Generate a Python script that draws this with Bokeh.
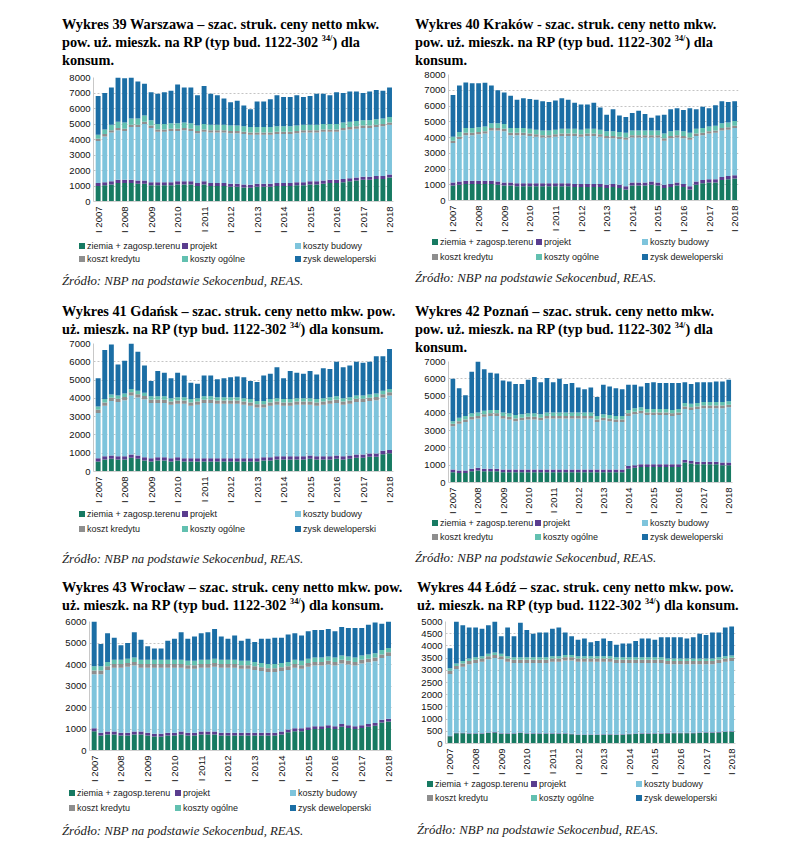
import math
from bokeh.plotting import figure
from bokeh.models import Range1d, FixedTicker, Div, ColumnDataSource
from bokeh.layouts import column, row, Spacer
from bokeh.embed import file_html
from bokeh.resources import INLINE

series = ["ziemia + zagosp.terenu", "projekt", "koszty budowy",
          "koszt kredytu", "koszty ogólne", "zysk deweloperski"]
colors = ["#177a62", "#5a3d8f", "#7ec4dc", "#8e8e8e", "#62c0b0", "#1b6ea5"]
tick_labels = ["I 2007", "I 2008", "I 2009", "I 2010", "I 2011", "I 2012",
               "I 2013", "I 2014", "I 2015", "I 2016", "I 2017", "I 2018"]
tick_bars = [0, 4, 8, 12, 16, 20, 24, 28, 32, 36, 40, 44]

# ---------------- Warszawa ----------------
waw_ziemia = [1000, 1050, 1100, 1200, 1200, 1200, 1150, 1150, 1050, 1050, 1050, 1050, 1100, 1100, 1100,
              1000, 1100, 1000, 1000, 1000, 950, 950, 900, 880, 950, 950, 950, 1000, 1000, 1000,
              1050, 1050, 1100, 1100, 1150, 1200, 1200, 1250, 1300, 1350, 1400, 1400, 1450, 1450, 1550]
waw_projekt = [200, 200, 200, 200, 200, 200, 200, 200, 200, 200, 200, 200, 200, 200, 200,
               200, 200, 200, 200, 200, 200, 200, 200, 200, 200, 200, 200, 200, 200, 200,
               200, 200, 200, 200, 200, 200, 200, 200, 200, 200, 200, 200, 200, 200, 200]
waw_budowy = [2700, 2950, 3150, 3200, 3150, 3400, 3450, 3650, 3500, 3250, 3250, 3300, 3250, 3300, 3250,
              3200, 3200, 3250, 3250, 3250, 3250, 3250, 3250, 3220, 3150, 3150, 3150, 3150, 3150, 3150,
              3150, 3200, 3150, 3150, 3150, 3100, 3100, 3150, 3150, 3150, 3150, 3150, 3150, 3200, 3200]
waw_kredyt = [150, 150, 150, 150, 150, 150, 150, 150, 150, 150, 150, 150, 150, 150, 150,
              150, 150, 150, 150, 150, 150, 150, 150, 150, 150, 150, 150, 150, 150, 150,
              150, 150, 150, 150, 150, 150, 150, 150, 150, 150, 150, 150, 150, 150, 150]
waw_ogolne = [250, 300, 350, 400, 400, 400, 400, 400, 350, 350, 350, 350, 350, 350, 350,
              350, 350, 350, 350, 350, 350, 350, 350, 350, 350, 350, 350, 350, 350, 350,
              350, 350, 350, 350, 350, 350, 350, 350, 350, 350, 350, 350, 350, 350, 350]
waw_zysk = [2500, 2350, 2400, 2850, 2850, 2650, 2400, 2050, 1800, 1950, 2050, 2100, 2500, 2250, 2300,
            1950, 2450, 2000, 1900, 1700, 1500, 1600, 1350, 1150, 1650, 1650, 1800, 2000, 1900, 1900,
            1950, 1800, 1850, 2000, 1950, 1850, 2050, 1900, 1950, 1900, 1750, 1850, 1900, 1800, 1900]

# ---------------- Kraków ----------------
krk_ziemia = [950, 1000, 1050, 1050, 1050, 1050, 1050, 1000, 950, 950, 900, 900, 900, 900, 900,
              900, 900, 900, 900, 850, 850, 850, 850, 850, 800, 850, 800, 700, 950, 950,
              950, 1000, 950, 800, 850, 950, 850, 700, 1000, 1100, 1150, 1150, 1300, 1350, 1400]
krk_projekt = [200, 200, 200, 200, 200, 200, 200, 200, 200, 200, 200, 200, 200, 200, 200,
               200, 200, 200, 200, 200, 200, 200, 200, 200, 200, 200, 200, 200, 200, 200,
               200, 200, 200, 200, 200, 200, 200, 200, 200, 200, 200, 200, 200, 200, 200]
krk_budowy = [2500, 2700, 2900, 2900, 2950, 3000, 3200, 3250, 3250, 3000, 3050, 3050, 3000, 2950, 2900,
              2900, 2950, 3000, 3000, 3050, 3000, 3050, 3050, 3000, 2950, 2900, 2900, 2950, 2850, 2850,
              2850, 2800, 2850, 2800, 2900, 2850, 2900, 2950, 2900, 2850, 2900, 2950, 2950, 2950, 3000]
krk_kredyt = [150, 150, 150, 150, 150, 150, 150, 150, 150, 150, 150, 150, 150, 150, 150,
              150, 150, 150, 150, 150, 150, 150, 150, 150, 150, 150, 150, 150, 150, 150,
              150, 150, 150, 150, 150, 150, 150, 150, 150, 150, 150, 150, 150, 150, 150]
krk_ogolne = [250, 300, 300, 300, 300, 300, 300, 300, 300, 300, 300, 300, 300, 300, 300,
              300, 300, 300, 300, 300, 300, 300, 300, 300, 300, 300, 300, 300, 300, 300,
              300, 300, 300, 300, 300, 300, 300, 300, 300, 300, 300, 300, 300, 300, 300]
krk_zysk = [2650, 2950, 2900, 2850, 2800, 2780, 2400, 2100, 2000, 2050, 1800, 1900, 1900, 1900, 1850,
            1800, 1850, 1950, 1850, 1650, 1600, 1550, 1650, 1400, 1050, 1400, 1050, 1000, 1100, 1250,
            1050, 800, 950, 1200, 1400, 1400, 1350, 1550, 1250, 1350, 1150, 1300, 1400, 1300, 1250]

# ---------------- Gdańsk ----------------
gda_ziemia = [550, 650, 700, 650, 650, 750, 700, 600, 550, 600, 600, 550, 600, 550, 550,
              550, 550, 550, 550, 550, 550, 550, 550, 550, 550, 600, 600, 650, 650, 650,
              650, 650, 700, 650, 650, 650, 700, 650, 700, 750, 750, 800, 800, 950, 1000]
gda_projekt = [180, 180, 180, 180, 180, 180, 180, 180, 180, 180, 180, 180, 180, 180, 180,
               180, 180, 180, 180, 180, 180, 180, 180, 180, 180, 180, 180, 180, 180, 180,
               180, 180, 180, 180, 180, 180, 180, 180, 180, 180, 180, 180, 180, 180, 180]
gda_budowy = [2470, 2770, 2970, 2970, 3070, 3220, 3170, 3170, 3020, 2970, 2970, 2920, 2920, 2970, 2870,
              2920, 3020, 3020, 2970, 2970, 2970, 2970, 2920, 2870, 2770, 2720, 2820, 2820, 2770, 2770,
              2820, 2820, 2770, 2770, 2820, 2870, 2870, 2820, 2820, 2870, 2870, 2870, 2920, 2920, 2970]
gda_kredyt = [180, 180, 180, 180, 180, 180, 180, 180, 180, 180, 180, 180, 180, 180, 180,
              180, 180, 180, 180, 180, 180, 180, 180, 180, 180, 180, 180, 180, 180, 180,
              180, 180, 180, 180, 180, 180, 180, 180, 180, 180, 180, 180, 180, 180, 180]
gda_ogolne = [180, 180, 180, 180, 180, 180, 180, 180, 180, 180, 180, 180, 180, 180, 180,
              180, 180, 180, 180, 180, 180, 180, 180, 180, 180, 180, 180, 180, 180, 180,
              180, 180, 180, 180, 180, 180, 180, 180, 180, 180, 180, 180, 180, 180, 180]
gda_zysk = [1540, 2690, 2740, 1690, 1790, 2490, 2140, 1490, 840, 1390, 1290, 1090, 1340, 1190, 890,
            790, 1140, 1140, 990, 1040, 1090, 1140, 1140, 990, 1040, 1390, 1390, 1690, 1140, 1540,
            1390, 1340, 1490, 1340, 1640, 1540, 1890, 1690, 1740, 1840, 1790, 1790, 2040, 1890, 2190]

# ---------------- Poznań ----------------
poz_ziemia = [600, 550, 550, 650, 700, 650, 650, 650, 600, 600, 600, 600, 600, 600, 600,
              600, 600, 600, 600, 600, 600, 600, 600, 600, 600, 600, 600, 600, 800, 850,
              900, 900, 900, 900, 900, 900, 900, 1150, 1100, 1050, 1050, 1050, 1050, 1000, 1000]
poz_projekt = [150, 150, 150, 150, 150, 150, 150, 150, 150, 150, 150, 150, 150, 150, 150,
               150, 150, 150, 150, 150, 150, 150, 150, 150, 150, 150, 150, 150, 150, 150,
               150, 150, 150, 150, 150, 150, 150, 150, 150, 150, 150, 150, 150, 150, 150]
poz_budowy = [2500, 2700, 2800, 2850, 2850, 3000, 3050, 3050, 2950, 2900, 2800, 2850, 2900, 2900, 2850,
              2950, 2950, 2950, 2950, 2950, 2950, 2950, 2950, 2750, 2850, 2800, 2750, 2750, 2900, 2950,
              2950, 2850, 2850, 2850, 2850, 2800, 2850, 2950, 2950, 3050, 3100, 3100, 3100, 3150, 3200]
poz_kredyt = [150, 150, 150, 150, 150, 150, 150, 150, 150, 150, 150, 150, 150, 150, 150,
              150, 150, 150, 150, 150, 150, 150, 150, 150, 150, 150, 150, 150, 150, 150,
              150, 150, 150, 150, 150, 150, 150, 150, 150, 150, 150, 150, 150, 150, 150]
poz_ogolne = [150, 200, 200, 200, 200, 200, 200, 200, 200, 200, 200, 200, 200, 200, 200,
              200, 200, 200, 200, 200, 200, 200, 200, 200, 200, 200, 200, 200, 200, 200,
              200, 200, 200, 200, 200, 200, 200, 200, 200, 200, 200, 200, 200, 200, 200]
poz_zysk = [2450, 1700, 1200, 2400, 2950, 2400, 2150, 2100, 1850, 1850, 1800, 1750, 1950, 2100, 1850,
            2000, 1750, 1950, 1650, 1700, 1450, 1350, 1450, 1100, 1700, 1650, 1600, 1550, 1450, 1350,
            1200, 1500, 1550, 1500, 1500, 1550, 1500, 1200, 1150, 1200, 1150, 1150, 1200, 1200, 1250]

# ---------------- Wrocław ----------------
wro_ziemia = [900, 700, 750, 750, 700, 700, 750, 750, 700, 650, 650, 700, 700, 750, 700,
              700, 750, 750, 750, 700, 700, 700, 700, 700, 700, 700, 700, 700, 750, 850,
              900, 900, 950, 1000, 1000, 1050, 1000, 1100, 1050, 1000, 1050, 1100, 1150, 1300, 1350]
wro_projekt = [130, 130, 130, 130, 130, 130, 130, 130, 130, 130, 130, 130, 130, 130, 130,
               130, 130, 130, 130, 130, 130, 130, 130, 130, 130, 130, 130, 130, 130, 130,
               130, 130, 130, 130, 130, 130, 130, 130, 130, 130, 130, 130, 130, 130, 130]
wro_budowy = [2520, 2720, 2870, 2970, 3020, 3070, 3070, 2970, 3020, 3070, 3070, 3020, 3020, 2970, 2970,
              2970, 2970, 2970, 3020, 3020, 3020, 3020, 2970, 2970, 2920, 2870, 2820, 2820, 2820, 2770,
              2820, 2770, 2820, 2820, 2820, 2820, 2820, 2820, 2820, 2820, 2870, 2870, 2870, 2870, 2920]
wro_kredyt = [170, 170, 170, 170, 170, 170, 170, 170, 170, 170, 170, 170, 170, 170, 170,
              170, 170, 170, 170, 170, 170, 170, 170, 170, 170, 170, 170, 170, 170, 170,
              170, 170, 170, 170, 170, 170, 170, 170, 170, 170, 170, 170, 170, 170, 170]
wro_ogolne = [200, 200, 200, 200, 200, 200, 200, 200, 200, 200, 200, 200, 200, 200, 200,
              200, 200, 200, 200, 200, 200, 200, 200, 200, 200, 200, 200, 200, 200, 200,
              200, 200, 200, 200, 200, 200, 200, 200, 200, 200, 200, 200, 200, 200, 200]
wro_zysk = [2080, 1030, 1330, 1030, 680, 730, 1180, 930, 630, 530, 530, 880, 980, 1280, 1030,
            1130, 1230, 1280, 1380, 1080, 980, 1130, 930, 1030, 930, 1130, 1180, 1230, 1180, 1280,
            1230, 1180, 1280, 1280, 1280, 1280, 1230, 1330, 1330, 1380, 1280, 1380, 1430, 1230, 1230]

# ---------------- Łódź ----------------
ldz_ziemia = [300, 420, 420, 400, 400, 400, 430, 450, 400, 400, 400, 430, 400, 400, 400,
              400, 400, 400, 400, 380, 350, 350, 350, 350, 360, 360, 350, 360, 380, 390,
              400, 400, 400, 400, 410, 420, 420, 420, 420, 430, 440, 440, 450, 470, 480]
ldz_projekt = [20, 20, 20, 20, 20, 20, 20, 20, 20, 20, 20, 20, 20, 20, 20,
               20, 20, 20, 20, 20, 20, 20, 20, 20, 20, 20, 20, 20, 20, 20,
               20, 20, 20, 20, 20, 20, 20, 20, 20, 20, 20, 20, 20, 20, 20]
ldz_budowy = [2530, 2610, 2710, 2830, 2880, 2930, 3000, 3030, 3030, 2930, 2880, 2850, 2880, 2880, 2880,
              2880, 2930, 2930, 2980, 3000, 2980, 2980, 2980, 2980, 2970, 2970, 2930, 2920, 2900, 2890,
              2880, 2880, 2880, 2880, 2820, 2810, 2810, 2810, 2810, 2800, 2790, 2790, 2830, 2860, 2880]
ldz_kredyt = [130, 130, 130, 130, 130, 130, 130, 130, 130, 130, 130, 130, 130, 130, 130,
              130, 130, 130, 130, 130, 130, 130, 130, 130, 130, 130, 130, 130, 130, 130,
              130, 130, 130, 130, 130, 130, 130, 130, 130, 130, 130, 130, 130, 130, 130]
ldz_ogolne = [100, 100, 100, 100, 100, 100, 100, 100, 100, 100, 100, 100, 100, 100, 100,
              100, 100, 100, 100, 100, 100, 100, 100, 100, 100, 100, 100, 100, 100, 100,
              100, 100, 100, 100, 100, 100, 100, 100, 100, 100, 100, 100, 100, 100, 100]
ldz_zysk = [820, 1720, 1470, 1270, 1220, 1120, 1170, 1270, 720, 1170, 870, 1420, 1120, 970, 1020,
            1020, 1120, 1170, 920, 770, 670, 720, 570, 620, 720, 620, 520, 570, 570, 670,
            770, 770, 720, 820, 870, 870, 870, 820, 870, 1020, 970, 1070, 1020, 1170, 1190]

SUP = '<sup style="font-size:58%;line-height:0;vertical-align:0.7em;">34/</sup>'
titles = {
    "waw": "Wykres 39 Warszawa – szac. struk. ceny netto mkw.<br>pow. uż. mieszk. na RP (typ bud. 1122-302 " + SUP + ") dla<br>konsum.",
    "krk": "Wykres 40 Kraków - szac. struk. ceny netto mkw.<br>pow. uż. mieszk. na RP (typ bud. 1122-302 " + SUP + ") dla<br>konsum.",
    "gda": "Wykres 41 Gdańsk – szac. struk. ceny netto mkw. pow.<br>uż. mieszk. na RP (typ bud. 1122-302 " + SUP + ") dla konsum.",
    "poz": "Wykres 42 Poznań – szac. struk. ceny netto mkw.<br>pow. uż. mieszk. na RP (typ bud. 1122-302 " + SUP + ") dla<br>konsum.",
    "wro": "Wykres 43 Wrocław – szac. struk. ceny netto mkw. pow.<br>uż. mieszk. na RP (typ bud. 1122-302 " + SUP + ") dla konsum.",
    "ldz": "Wykres 44 Łódź – szac. struk. ceny netto mkw. pow.<br>uż. mieszk. na RP (typ bud. 1122-302 " + SUP + ") dla konsum.",
}
source_text = "Źródło: NBP na podstawie Sekocenbud, REAS."

AXIS_H = 33      # room for the rotated year labels
LEG_H = 34       # strip holding the two legend rows


def title_div(html, height, pad):
    style = ("font-family:'Liberation Serif',serif;font-weight:bold;font-size:14.3px;"
             "line-height:18px;padding-top:%dpx;white-space:nowrap;color:#000;" % pad)
    return Div(text='<div style="%s">%s</div>' % (style, html), width=340, height=height, margin=0)


def source_div(height, pad):
    style = ("font-family:'Liberation Serif',serif;font-style:italic;font-size:12.8px;"
             "line-height:14px;white-space:nowrap;color:#222;padding-top:%dpx;" % pad)
    return Div(text='<div style="%s">%s</div>' % (style, source_text), width=340, height=height, margin=0)


def legend_div(col_x, row_y):
    # two rows x three columns, square swatches in the series colours
    parts = []
    for i, (name, c) in enumerate(zip(series, colors)):
        r, k = divmod(i, 3)
        parts.append(
            '<div style="position:absolute;left:%dpx;top:%dpx;height:12px;line-height:12px;'
            'white-space:nowrap;font-family:\'Liberation Sans\',sans-serif;font-size:9px;color:#222;">'
            '<span style="display:inline-block;width:6px;height:6px;background:%s;'
            'margin-right:2px;vertical-align:0px;"></span>%s</div>'
            % (col_x[k] - 3, row_y[r] - 6, c, name))
    html = ('<div style="position:relative;width:340px;height:%dpx;">' % LEG_H) + "".join(parts) + "</div>"
    return Div(text=html, width=340, height=LEG_H, margin=0)


def chart(comps, ymax, ystep, mbl, fw, mbt, fh):
    n = len(comps[0])
    keys = ["s%d" % i for i in range(len(comps))]
    data = {"x": list(range(n))}
    for k, c in zip(keys, comps):
        data[k] = c
    src = ColumnDataSource(data)
    p = figure(frame_width=fw, frame_height=fh,
               x_range=Range1d(-0.7, n - 0.4), y_range=Range1d(0, ymax),
               output_backend="svg", toolbar_location=None,
               min_border_left=mbl, min_border_right=340 - mbl - fw,
               min_border_top=mbt, min_border_bottom=AXIS_H)
    p.vbar_stack(keys, x="x", width=0.74, color=colors, line_color=None, source=src)
    p.outline_line_color = None
    p.background_fill_color = "white"
    p.xgrid.grid_line_color = None
    p.ygrid.grid_line_color = "#c4c4c4"
    p.ygrid.grid_line_dash = "2 2"
    p.ygrid.grid_line_width = 1

    p.yaxis.ticker = FixedTicker(ticks=list(range(0, ymax + 1, ystep)))
    p.yaxis.major_tick_line_color = None
    p.yaxis.minor_tick_line_color = None
    p.yaxis.major_tick_out = 0
    p.yaxis.major_tick_in = 0
    p.yaxis.axis_line_color = "#c8c8c8"
    p.yaxis.major_label_standoff = 3
    p.yaxis.major_label_text_font = "Liberation Sans"
    p.yaxis.major_label_text_font_size = "9.5px"
    p.yaxis.major_label_text_color = "#111"

    p.xaxis.ticker = FixedTicker(ticks=tick_bars)
    p.xaxis.major_label_overrides = {t: lab for t, lab in zip(tick_bars, tick_labels)}
    p.xaxis.major_label_orientation = math.pi / 2
    p.xaxis.major_tick_line_color = None
    p.xaxis.minor_tick_line_color = None
    p.xaxis.major_tick_out = 0
    p.xaxis.major_tick_in = 0
    p.xaxis.axis_line_color = "#d0d0d0"
    p.xaxis.major_label_standoff = 5
    p.xaxis.major_label_text_font = "Liberation Sans"
    p.xaxis.major_label_text_font_size = "9.5px"
    p.xaxis.major_label_text_color = "#111"
    return p


def panel(key, comps, ymax, ystep, t_h, t_pad, mbl, fw, mbt, fh, col_x, row_y, s_h, s_pad):
    return column(title_div(titles[key], t_h, t_pad),
                  chart(comps, ymax, ystep, mbl, fw, mbt, fh),
                  legend_div(col_x, row_y),
                  source_div(s_h, s_pad), spacing=0)


waw = panel("waw", [waw_ziemia, waw_projekt, waw_budowy, waw_kredyt, waw_ogolne, waw_zysk],
            8000, 1000, 62, 7, 31, 300, 7, 124, (20, 123, 236), (11, 24), 28, 5)
krk = panel("krk", [krk_ziemia, krk_projekt, krk_budowy, krk_kredyt, krk_ogolne, krk_zysk],
            8000, 1000, 62, 7, 33, 290, 4, 126, (20, 124, 230), (8, 23), 29, 3)
gda = panel("gda", [gda_ziemia, gda_projekt, gda_budowy, gda_kredyt, gda_ogolne, gda_zysk],
            7000, 1000, 41, 5, 31, 300, 5, 128, (20, 123, 236), (9, 24), 33, 13)
poz = panel("poz", [poz_ziemia, poz_projekt, poz_budowy, poz_kredyt, poz_ogolne, poz_zysk],
            7000, 1000, 59, 5, 33, 284, 5, 121, (20, 123, 230), (7, 21), 22, 0)
wro = panel("wro", [wro_ziemia, wro_projekt, wro_budowy, wro_kredyt, wro_ogolne, wro_zysk],
            6000, 1000, 42, 6, 25, 303, 7, 129, (10, 116, 231), (9, 24), 22, 6)
ldz = panel("ldz", [ldz_ziemia, ldz_projekt, ldz_budowy, ldz_kredyt, ldz_ogolne, ldz_zysk],
            5000, 500, 42, 6, 28, 290, 7, 122, (13, 117, 222), (7, 21), 29, 12)

page = column(
    Spacer(width=10, height=8),
    row(Spacer(width=62, height=10), waw, Spacer(width=13, height=10), krk, spacing=0),
    row(Spacer(width=62, height=10), gda, Spacer(width=13, height=10), poz, spacing=0),
    row(Spacer(width=62, height=10), wro, Spacer(width=13, height=10), ldz, spacing=0),
    spacing=0)

open("out.html", "w").write(file_html(page, INLINE))
